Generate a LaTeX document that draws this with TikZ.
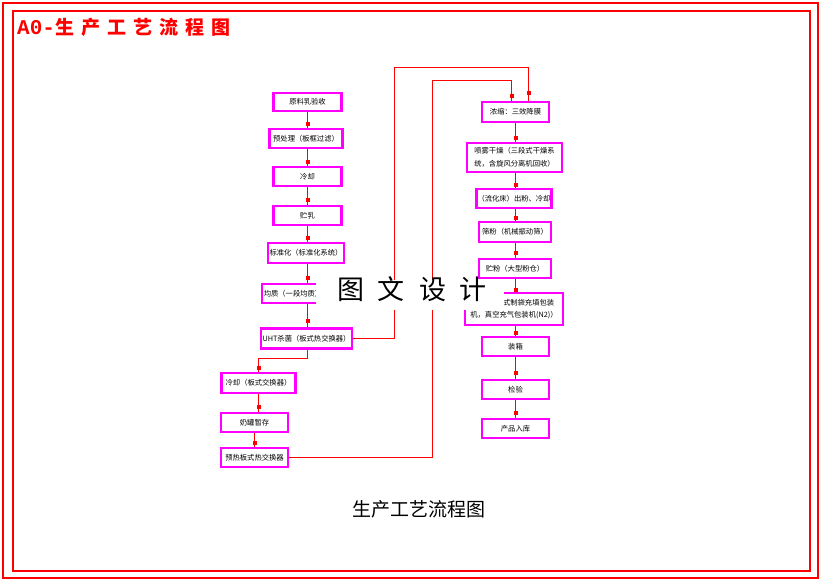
\documentclass[tikz,border=0pt]{standalone}
\usepackage{fontspec}
\setmainfont{Noto Sans CJK SC}
\newfontfamily\monofnt{Liberation Mono}
\usetikzlibrary{calc}
\definecolor{mag}{RGB}{255,0,255}
\begin{document}
\begin{tikzpicture}[x=1pt,y=-1pt,
  box/.style={draw=mag, line width=2.6pt, inner sep=0pt, align=center, text=black,
    font=\fontsize{7.3}{12.5}\selectfont},
  conn/.style={draw=red, line width=1.1pt},
  sq/.style={fill=red, draw=none, inner sep=0pt, minimum size=4pt},
  frame/.style={draw=red, line width=1.3pt}]
\useasboundingbox (0,0) rectangle (820,580);
% frames
\draw[frame] (3,3) rectangle (818,578);
\draw[frame] (13,11) rectangle (810,571);
\node[anchor=west, text=red, font=\fontsize{19}{19}\selectfont\bfseries, inner sep=0pt] (title) at (17,27) {{\monofnt\fontsize{21}{21}\selectfont\bfseries A0-}{\addfontfeature{LetterSpace=37}生产工艺流程图}};
% left column
\node[box,minimum width=68,minimum height=18] (n1) at (307.5,102) {原料乳验收};
\node[box,minimum width=73,minimum height=19] (n2) at (306,138.5) {预处理（板框过滤）};
\node[box,minimum width=68,minimum height=19] (n3) at (307.5,176.5) {冷却};
\node[box,minimum width=68,minimum height=19] (n4) at (307.5,215.5) {贮乳};
\node[box,minimum width=76,minimum height=20] (n5) at (306,253) {标准化（标准化系统）};
\node[box,minimum width=62,minimum height=19] (n6) at (293,293.5) {均质（一段均质）};
\node[box,minimum width=91,minimum height=20] (n7) at (306.5,338.5) {UHT杀菌（板式热交换器）};
\node[box,minimum width=74,minimum height=20] (n8) at (258.5,383) {冷却（板式交换器）};
\node[box,minimum width=67,minimum height=19] (n9) at (254.5,422.5) {奶罐暂存};
\node[box,minimum width=67,minimum height=19] (n10) at (254.5,457.5) {预热板式热交换器};
% right column
\node[box,minimum width=67,minimum height=20] (r1) at (515.5,112) {浓缩：三效降膜};
\node[box,minimum width=95,minimum height=29] (r2) at (514.5,157.5) {喷雾干燥（三段式干燥系\\统，含旋风分离机回收）};
\node[box,minimum width=75,minimum height=19] (r3) at (514,198.5) {（流化床）出粉、冷却};
\node[box,minimum width=72,minimum height=20] (r4) at (515,232) {筛粉（机械振动筛）};
\node[box,minimum width=72,minimum height=19] (r5) at (515,268.5) {贮粉（大型粉仓）};
\node[box,minimum width=98,minimum height=32] (r6) at (514,309) {包装（立式制袋充填包装\\机，真空充气包装机(N2)）};
\node[box,minimum width=67,minimum height=19] (r7) at (515.5,346.5) {装箱};
\node[box,minimum width=67,minimum height=19] (r8) at (515.5,389.5) {检验};
\node[box,minimum width=67,minimum height=19] (r9) at (515.5,428.5) {产品入库};
% corner coordinates
\coordinate (k1) at (258.5,358.5);
\coordinate (k2) at (432.5,80.5);
\coordinate (k3) at (511.5,80.5);
\coordinate (k4) at (394.5,67.5);
\coordinate (k5) at (528.5,67.5);
% left connectors
\draw[conn] (n1.south) -- node[sq,pos=.75]{} (n1.south |- n2.north);
\draw[conn] (n1.south |- n2.south) -- node[sq,pos=.75]{} (n1.south |- n3.north);
\draw[conn] (n3.south) -- node[sq,pos=.75]{} (n3.south |- n4.north);
\draw[conn] (n4.south) -- node[sq,pos=.75]{} (n4.south |- n5.north);
\draw[conn] (n4.south |- n5.south) -- node[sq,pos=.75]{} (n4.south |- n6.north);
\draw[conn] (n4.south |- n6.south) -- node[sq,pos=.75]{} (n4.south |- n7.north);
\draw[conn] (n4.south |- n7.south) |- (k1) -- node[sq,pos=.73]{} (n8.north);
\draw[conn] (n8.south) -- node[sq,pos=.75]{} (n8.south |- n9.north);
\draw[conn] (n9.south) -- node[sq,pos=.7]{} (n9.south |- n10.north);
% cross connectors
\draw[conn] (n10.east) -| (k2) -- (k3) -- node[sq,pos=.77]{} (k3 |- r1.north);
\draw[conn] (n7.east) -| (k4) -- (k5) -- node[sq,pos=.77]{} (k5 |- r1.north);
% right connectors
\draw[conn] (r1.south) -- node[sq,pos=.8]{} (r1.south |- r2.north);
\draw[conn] (r1.south |- r2.south) -- node[sq,pos=.8]{} (r1.south |- r3.north);
\draw[conn] (r1.south |- r3.south) -- node[sq,pos=.75]{} (r1.south |- r4.north);
\draw[conn] (r1.south |- r4.south) -- node[sq,pos=.65]{} (r1.south |- r5.north);
\draw[conn] (r1.south |- r5.south) -- node[sq,pos=.9]{} (r1.south |- r6.north);
\draw[conn] (r1.south |- r6.south) -- node[sq,pos=.67]{} (r1.south |- r7.north);
\draw[conn] (r1.south |- r7.south) -- node[sq,pos=.75]{} (r1.south |- r8.north);
\draw[conn] (r1.south |- r8.south) -- node[sq,pos=.75]{} (r1.south |- r9.north);
% watermark
\fill[white] (316,280) rectangle (504,310);
\node[font=\fontsize{27}{27}\selectfont, text=black, inner sep=0pt] (wm) at (412,289) {图\hspace{14pt}文\hspace{14pt}设\hspace{14pt}计};
% caption
\node[font=\fontsize{19}{19}\selectfont, text=black, inner sep=0pt] (cap) at (418.5,509) {生产工艺流程图};
\end{tikzpicture}
\end{document}
